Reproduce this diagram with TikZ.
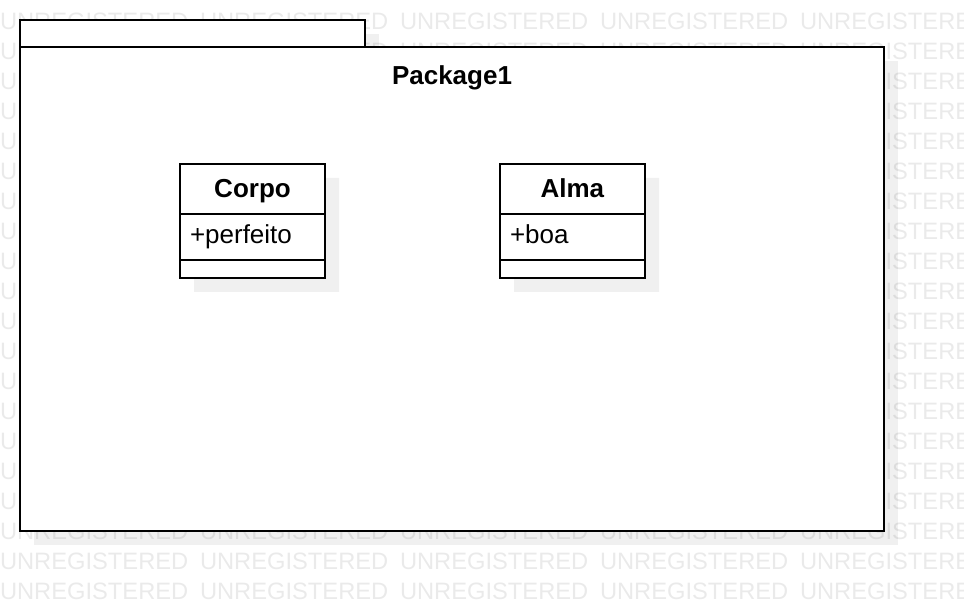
\documentclass[tikz,border=0pt]{standalone}
\usepackage{fontspec}
\setmainfont{Liberation Sans}
\usetikzlibrary{positioning, shapes.multipart, shadows}

\definecolor{wmgray}{RGB}{234,234,234}

% struts for the three compartments of a class box
\newcommand{\headstrut}{\rule[-15pt]{0pt}{48pt}}
\newcommand{\attrstrut}{\rule[-15pt]{0pt}{44pt}}
\newcommand{\opsstrut}{\rule{0pt}{16pt}}

\begin{document}
\begin{tikzpicture}[
    x=1pt, y=-1pt,
    every node/.style={inner sep=0pt, outer sep=0pt},
    watermark/.style={text=wmgray, font=\fontsize{23.7}{28}\selectfont, anchor=base west},
    umlshadow/.style={drop shadow={shadow xshift=14pt, shadow yshift=-14pt, fill=black, opacity=0.06}},
    pkgbox/.style={draw, line width=2pt, fill=white, umlshadow, anchor=north west},
    pkgtitle/.style={font=\fontsize{26}{31}\selectfont\bfseries},
    umlclass/.style={rectangle split, rectangle split parts=3, draw, line width=2pt, fill=white, umlshadow,
        minimum width=145pt, inner xsep=10pt, inner ysep=0pt,
        rectangle split part align={center,left,left}, font=\fontsize{26}{31}\selectfont}
]
\useasboundingbox (0,0) rectangle (964,612);

% Watermark
\begin{scope}
    \clip (0,0) rectangle (964,612);
    \foreach \r in {-1,...,19}
        \foreach \c in {0,...,4}
            \node[watermark] (wm-\r-\c) at (\c*200, 29.8+30*\r) {UNREGISTERED};
\end{scope}

% Package
\node[pkgbox, minimum width=345pt, minimum height=27pt] (pkgtab) at (20,20) {};
\node[pkgbox, minimum width=864pt, minimum height=484pt] (pkg) at (pkgtab.south west) {};
\node[pkgtitle, below=19pt of pkg.north] (pkglabel) {Package1};

% Classes
\node[umlclass, anchor=north west] (corpo) at (180,164)
    {\textbf{Corpo}\headstrut \nodepart{second}+perfeito\attrstrut \nodepart{third}\opsstrut};
\node[umlclass, right=175pt of corpo] (alma)
    {\textbf{Alma}\headstrut \nodepart{second}+boa\attrstrut \nodepart{third}\opsstrut};

\end{tikzpicture}
\end{document}
